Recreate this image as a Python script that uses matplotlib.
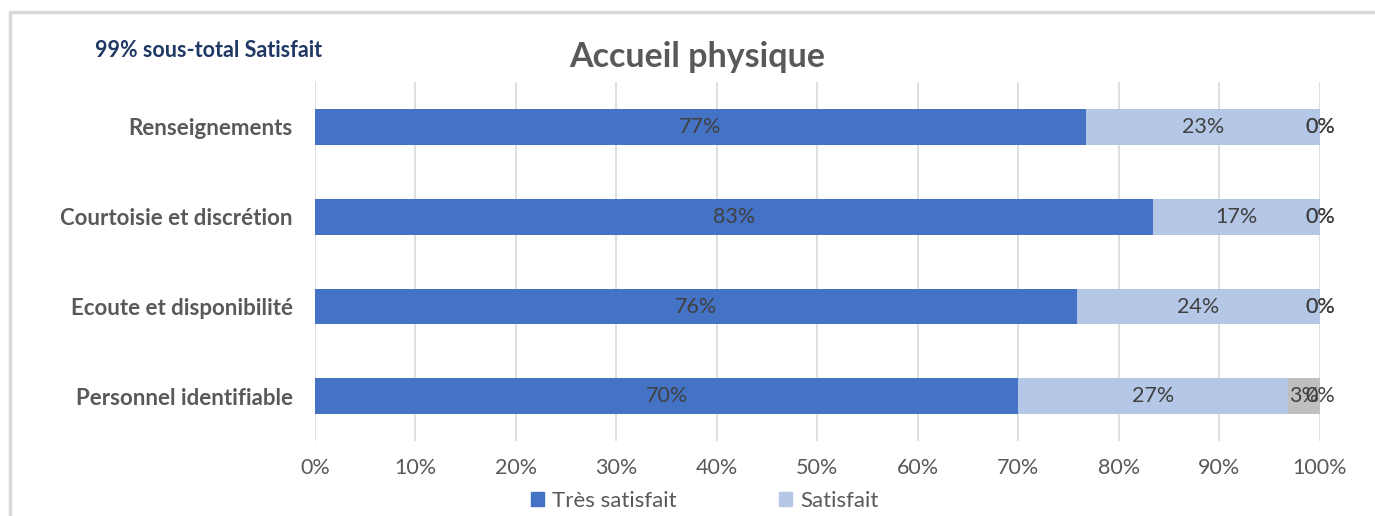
import matplotlib.pyplot as plt
from matplotlib.patches import Rectangle
from matplotlib.patches import Patch

plt.rcParams['font.family'] = ['Lato', 'DejaVu Sans']

categories = ['Renseignements', 'Courtoisie et discrétion',
              'Ecoute et disponibilité', 'Personnel identifiable']
series_names = ['Très satisfait', 'Satisfait', 'Peu satisfait', 'Pas satisfait']
tres_satisfait = [76.7, 83.4, 75.8, 70.0]
satisfait = [23.3, 16.6, 24.2, 26.8]
peu_satisfait = [0.0, 0.0, 0.0, 3.2]
pas_satisfait = [0.0, 0.0, 0.0, 0.0]
label_tres = ['77%', '83%', '76%', '70%']
label_sat = ['23%', '17%', '24%', '27%']
label_peu = ['0%', '0%', '0%', '3%']
label_pas = ['0%', '0%', '0%', '0%']
colors = ['#4472C4', '#B4C7E7', '#BFBFBF', '#A5A5A5']
xticks = [0, 10, 20, 30, 40, 50, 60, 70, 80, 90, 100]

fig = plt.figure(figsize=(13.75, 5.16), dpi=100)
ax = fig.add_axes([0.229, 0.145, 0.7309, 0.696])

# cadre gris autour du graphique
fig.patches.append(Rectangle((10 / 1375, -0.05), 1.2, 0.977 + 0.05,
                             transform=fig.transFigure, fill=False,
                             edgecolor='#D9D9D9', linewidth=2.5))

y = list(range(len(categories)))
data = [tres_satisfait, satisfait, peu_satisfait, pas_satisfait]
labels = [label_tres, label_sat, label_peu, label_pas]
left = [0.0] * len(categories)
for vals, labs, col, name in zip(data, labels, colors, series_names):
    bars = ax.barh(y, vals, left=left, height=0.4, color=col, label=name, zorder=3)
    ax.bar_label(bars, labels=labs, label_type='center', color='#404040',
                 fontsize=15.5)
    left = [l + v for l, v in zip(left, vals)]

ax.set_xlim(0, 100)
ax.set_ylim(3.5, -0.5)
ax.set_yticks(y)
ax.set_yticklabels(categories, fontsize=16, fontweight='bold', color='#595959')
ax.set_xticks(xticks)
ax.set_xticklabels([f'{t}%' for t in xticks], fontsize=15.5, color='#595959')
ax.tick_params(axis='both', length=0)
ax.tick_params(axis='y', pad=16)
ax.tick_params(axis='x', pad=12)
ax.grid(axis='x', color='#D9D9D9', linewidth=1.2, zorder=0)
for s in ax.spines.values():
    s.set_visible(False)

fig.text(0.507, 0.89, 'Accueil physique', ha='center', va='center',
         fontsize=24.5, fontweight='bold', color='#595959')
fig.text(0.152, 0.903, '99% sous-total Satisfait', ha='center', va='center',
         fontsize=15.5, fontweight='bold', color='#1F3864')

handles = [Patch(color=colors[0]), Patch(color=colors[1])]
fig.legend(handles, series_names[:2], loc='center', bbox_to_anchor=(0.5125, 0.03),
           ncol=2, frameon=False, fontsize=16, handlelength=0.6,
           handleheight=0.6, columnspacing=4.6, handletextpad=0.35,
           labelcolor='#595959')

fig.savefig('out.png', dpi=100)
